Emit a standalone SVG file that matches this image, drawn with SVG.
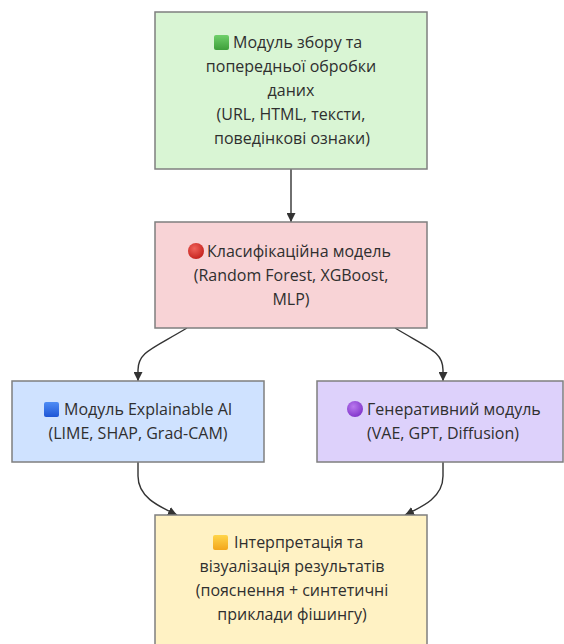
<svg xmlns="http://www.w3.org/2000/svg" width="564" height="644" viewBox="0 0 564 644">
<style>
.box{stroke:#7f7f7f;stroke-width:1.5}
.t{font-family:"Open Sans","Liberation Sans",Arial,sans-serif;font-size:16px;fill:#2f2f2f}
.m{text-anchor:middle}
.edge{fill:none;stroke:#333;stroke-width:1.4}
</style>
<defs>
<marker id="arr" viewBox="0 0 10 10" refX="10" refY="5" markerWidth="9" markerHeight="9" markerUnits="userSpaceOnUse" orient="auto">
<path d="M0,0 L10,5 L0,10 z" fill="#333"/>
</marker>
<linearGradient id="gG" x1="0" y1="0" x2="0" y2="1"><stop offset="0" stop-color="#6fd06a"/><stop offset="1" stop-color="#3e9f3a"/></linearGradient>
<radialGradient id="gR" cx="0.4" cy="0.35" r="0.7"><stop offset="0" stop-color="#f0625a"/><stop offset="1" stop-color="#c3201c"/></radialGradient>
<linearGradient id="gB" x1="0" y1="0" x2="0" y2="1"><stop offset="0" stop-color="#4f8df5"/><stop offset="1" stop-color="#1f56d6"/></linearGradient>
<radialGradient id="gP" cx="0.4" cy="0.35" r="0.7"><stop offset="0" stop-color="#b978ee"/><stop offset="1" stop-color="#7f33c9"/></radialGradient>
<linearGradient id="gY" x1="0" y1="0" x2="0" y2="1"><stop offset="0" stop-color="#ffd54a"/><stop offset="1" stop-color="#f3a61c"/></linearGradient>
</defs>

<g id="edges">
<path class="edge" d="M291,169 L291,222" marker-end="url(#arr)"/>
<path class="edge" d="M187,328 C152,349 138,352 138,370 L138,381" marker-end="url(#arr)"/>
<path class="edge" d="M395,328 C430,349 443,352 443,370 L443,381" marker-end="url(#arr)"/>
<path class="edge" d="M138,462 L138,476 C138,497 158,506 177,515" marker-end="url(#arr)"/>
<path class="edge" d="M443,462 L443,476 C443,497 424,506 405,515" marker-end="url(#arr)"/>
</g>

<g id="n1">
<rect class="box" x="155" y="12" width="272" height="157" fill="#d9f5d4"/>
<rect x="214" y="35" width="15" height="15" rx="2" fill="url(#gG)"/>
<text class="t" x="233" y="48">Модуль збору та</text>
<text class="t m" x="291" y="72">попередньої обробки</text>
<text class="t m" x="291" y="96">даних</text>
<text class="t m" x="291" y="120">(URL, HTML, тексти,</text>
<text class="t m" x="292" y="144">поведінкові ознаки)</text>
</g>

<g id="n2">
<rect class="box" x="155" y="222" width="272" height="106" fill="#f8d3d6"/>
<circle cx="196" cy="251" r="8" fill="url(#gR)"/>
<text class="t" x="207" y="256.5">Класифікаційна модель</text>
<text class="t m" x="291" y="280.5">(Random Forest, XGBoost,</text>
<text class="t m" x="291" y="304.5">MLP)</text>
</g>

<g id="n3">
<rect class="box" x="12" y="381" width="252" height="81" fill="#cfe2ff"/>
<rect x="44" y="402" width="15" height="15" rx="2" fill="url(#gB)"/>
<text class="t" x="64" y="415">Модуль Explainable AI</text>
<text class="t m" x="138" y="439">(LIME, SHAP, Grad-CAM)</text>
</g>

<g id="n4">
<rect class="box" x="317" y="381" width="246" height="81" fill="#ddd1fb"/>
<circle cx="355" cy="409" r="8" fill="url(#gP)"/>
<text class="t" x="367" y="415">Генеративний модуль</text>
<text class="t m" x="443" y="439">(VAE, GPT, Diffusion)</text>
</g>

<g id="n5">
<rect class="box" x="155" y="515" width="272" height="132" fill="#fff2c4"/>
<rect x="213" y="535" width="15" height="15" rx="2" fill="url(#gY)"/>
<text class="t" x="234" y="548">Інтерпретація та</text>
<text class="t m" x="292" y="572">візуалізація результатів</text>
<text class="t m" x="292" y="596">(пояснення + синтетичні</text>
<text class="t m" x="292" y="620">приклади фішингу)</text>
</g>
</svg>
